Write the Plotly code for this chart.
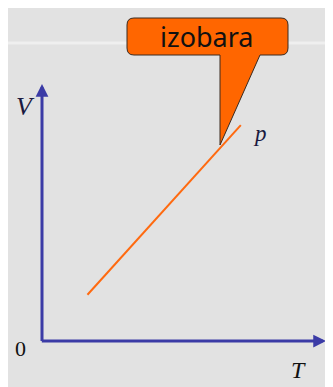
import plotly.graph_objects as go

# ── Data ─────────────────────────────────────────────────────────────────────
temperature = [0.16, 0.70]       # T, relative units
volume = [0.18, 0.84]            # V, relative units
callout_text = "izobara"
x_label = "T"
y_label = "V"
origin_label = "0"
line_label = "p"

# ── Geometry (page pixels -> paper; page body adds an 8px offset) ───────────
OFF = 8
W, H = 333, 387
L, R, T, B = 34, 15, 76, 54
PW, PH = W - L - R, H - T - B


def px(x):
    return (x - OFF - L) / PW


def py(y):
    return (H - B - (y - OFF)) / PH


AXIS_BLUE = "#3b3ba6"
ORANGE = "#ff6a10"
SERIF = "Liberation Serif, DejaVu Serif, serif"

fig = go.Figure()
fig.add_trace(go.Scatter(
    x=temperature, y=volume, mode="lines",
    line=dict(color=ORANGE, width=2),
    hoverinfo="skip", showlegend=False,
))

# callout bubble: rounded box with a pointer down to the line
x0, x1, y0, y1, r = 127, 288, 18, 55, 7
tip_x, tip_y = 220, 145
pts = [
    ("M", px(x0 + r), py(y0)),
    ("L", px(x1 - r), py(y0)),
    ("Q", px(x1), py(y0), px(x1), py(y0 + r)),
    ("L", px(x1), py(y1 - r)),
    ("Q", px(x1), py(y1), px(x1 - r), py(y1)),
    ("L", px(260), py(y1)),
    ("L", px(tip_x), py(tip_y)),
    ("L", px(220), py(y1)),
    ("L", px(x0 + r), py(y1)),
    ("Q", px(x0), py(y1), px(x0), py(y1 - r)),
    ("L", px(x0), py(y0 + r)),
    ("Q", px(x0), py(y0), px(x0 + r), py(y0)),
]
path = " ".join(
    c + " " + " ".join(f"{v:.4f},{w:.4f}" for v, w in zip(p[::2], p[1::2]))
    for c, *p in pts
) + " Z"

shapes = [
    dict(type="line", xref="paper", yref="paper", layer="below",
         x0=px(0), x1=px(W + OFF), y0=py(43), y1=py(43),
         line=dict(color="rgba(255,255,255,0.45)", width=3)),
    dict(type="path", xref="paper", yref="paper", path=path,
         fillcolor="#ff6600", line=dict(color="#3a2a20", width=1)),
]

arrow = dict(text="", showarrow=True, arrowhead=2, arrowsize=0.85,
             arrowwidth=3, arrowcolor=AXIS_BLUE,
             xref="x", yref="y", axref="x", ayref="y")
label = dict(xref="paper", yref="paper", showarrow=False,
             xanchor="center", yanchor="middle")
annotations = [
    dict(x=1, y=0, ax=-0.006, ay=0, **arrow),
    dict(x=0, y=1, ax=0, ay=-0.006, **arrow),
    dict(text=callout_text, x=px(207.5), y=py(37), **label,
         font=dict(family="Noto Sans, Open Sans, sans-serif", size=27, color="#111")),
    dict(text=f"<i>{y_label}</i>", x=px(25), y=py(106), **label,
         font=dict(family=SERIF, size=26, color="#1a1a40")),
    dict(text=origin_label, x=px(20), y=py(348), **label,
         font=dict(family=SERIF, size=22, color="#111")),
    dict(text=f"<i>{x_label}</i>", x=px(298), y=py(370), **label,
         font=dict(family=SERIF, size=24, color="#111")),
    dict(text=f"<i>{line_label}</i>", x=px(260), y=py(133), **label,
         font=dict(family=SERIF, size=23, color="#1a1a40")),
]

fig.update_layout(
    width=W, height=H,
    margin=dict(l=L, r=R, t=T, b=B, pad=0),
    paper_bgcolor="#e2e2e2", plot_bgcolor="rgba(0,0,0,0)",
    xaxis=dict(range=[0, 1], visible=False, fixedrange=True),
    yaxis=dict(range=[0, 1], visible=False, fixedrange=True),
    shapes=shapes, annotations=annotations,
    showlegend=False,
)

fig.write_html("out.html", config=dict(displayModeBar=False))
